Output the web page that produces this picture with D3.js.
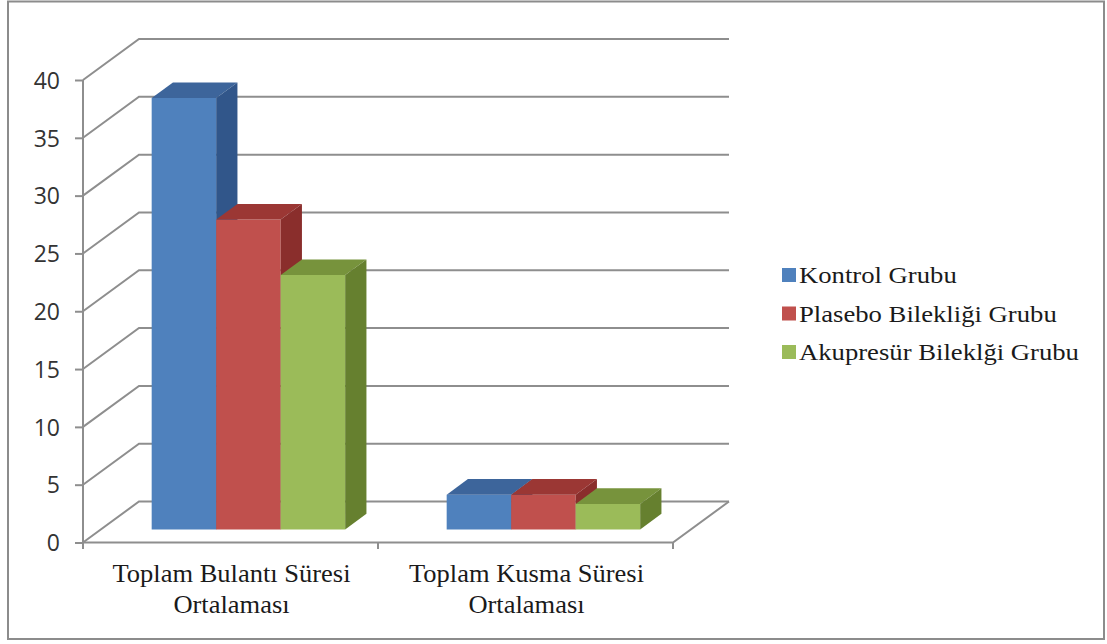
<!DOCTYPE html>
<html>
<head>
<meta charset="utf-8">
<script src="https://cdn.jsdelivr.net/npm/d3@7"></script>
<style>
  html, body { margin: 0; padding: 0; background: #fff; }
  svg { display: block; }
  .serif { font-family: "Liberation Serif", "Times New Roman", serif; }
</style>
</head>
<body>
<svg id="chart" width="1107" height="644"></svg>
<script>
// Category labels (two lines each), series names, values and axis ticks
const categoryLines = [["Toplam Bulantı Süresi", "Ortalaması"], ["Toplam Kusma Süresi", "Ortalaması"]];
const categories = ["Toplam Bulantı Süresi Ortalaması", "Toplam Kusma Süresi Ortalaması"];
const seriesNames = ["Kontrol Grubu", "Plasebo Bilekliği Grubu", "Akupresür Bileklği Grubu"];
const kontrolValues = [37.3, 3.0];
const plaseboValues = [26.8, 3.0];
const akupresurValues = [22.0, 2.2];
const yTicks = [0, 5, 10, 15, 20, 25, 30, 35, 40];

const seriesValues = [kontrolValues, plaseboValues, akupresurValues];
const faceColors = [
  { front: "#4f81bd", top: "#3d659b", side: "#31568a" },
  { front: "#c0504d", top: "#9b3734", side: "#8a2e2c" },
  { front: "#9bbb59", top: "#77933c", side: "#66802f" }
];

const svg = d3.select("#chart");

// Chart frame
svg.append("rect")
  .attr("x", 8).attr("y", 1.5).attr("width", 1096).attr("height", 637.5)
  .attr("fill", "#fff").attr("stroke", "#8c8c8c").attr("stroke-width", 2);

// Front-plane scales and the oblique depth offset of the 3D box
const y = d3.scaleLinear().domain([0, 40]).range([542.5, 80]);
const x0 = d3.scaleBand().domain(categories).range([83, 673]);
const x1 = d3.scaleBand().domain(seriesNames).range([0, x0.bandwidth()])
  .paddingInner(0).paddingOuter(0.787);
const DX = 56, DY = -41;           // full depth of the box
const zFront = 0.32, zBack = 0.70; // depth span occupied by the bars
const proj = (px, v, z) => [px + z * DX, y(v) + z * DY];

const gridColor = "#8e8e8e";
const xLeft = x0.range()[0], xRight = x0.range()[1];

// Side wall and back wall gridlines
const grid = svg.append("g").attr("fill", "none").attr("stroke", gridColor).attr("stroke-width", 2);
yTicks.forEach(t => {
  const a = proj(xLeft, t, 0), b = proj(xLeft, t, 1), c = proj(xRight, t, 1);
  grid.append("path").attr("d", d3.line()([a, b, c]));
});

// Floor outline
const floor = [proj(xLeft, 0, 0), proj(xRight, 0, 0), proj(xRight, 0, 1)];
grid.append("path").attr("d", d3.line()(floor));

// Category ticks below the floor
[xLeft, ...categories.map(c => x0(c) + x0.bandwidth())].forEach(px => {
  grid.append("line").attr("x1", px).attr("x2", px)
    .attr("y1", y(0)).attr("y2", y(0) + 6.5);
});

// Value axis
const yAxis = d3.axisLeft(y).tickValues(yTicks).tickSize(8).tickSizeOuter(0).tickPadding(15);
const ax = svg.append("g").attr("transform", `translate(${xLeft},0)`).call(yAxis);
ax.select(".domain").remove();
ax.selectAll(".tick line").attr("stroke", gridColor).attr("stroke-width", 2);
ax.selectAll(".tick text")
  .attr("fill", "#333").attr("font-family", "'Open Sans', sans-serif")
  .attr("font-size", 23).attr("dy", "0.36em");
svg.append("line").attr("x1", xLeft).attr("x2", xLeft)
  .attr("y1", y(40)).attr("y2", y(0) + 6.5)
  .attr("stroke", gridColor).attr("stroke-width", 2);

// 3D bars: front, top and right side faces, drawn left to right
const bars = svg.append("g");
categories.forEach((cat, ci) => {
  seriesNames.forEach((s, si) => {
    const v = seriesValues[si][ci];
    const xl = x0(cat) + x1(s), xr = xl + x1.bandwidth();
    const col = faceColors[si];
    const fbl = proj(xl, 0, zFront), fbr = proj(xr, 0, zFront);
    const ftl = proj(xl, v, zFront), ftr = proj(xr, v, zFront);
    const btl = proj(xl, v, zBack), btr = proj(xr, v, zBack), bbr = proj(xr, 0, zBack);
    const poly = pts => d3.line()(pts) + "Z";
    bars.append("path").attr("d", poly([fbl, fbr, ftr, ftl])).attr("fill", col.front);
    bars.append("path").attr("d", poly([ftl, ftr, btr, btl])).attr("fill", col.top);
    bars.append("path").attr("d", poly([fbr, bbr, btr, ftr])).attr("fill", col.side);
  });
});

// Category labels
const labels = svg.append("g").attr("text-anchor", "middle");
categories.forEach((cat, ci) => {
  const cx = x0(cat) + x0.bandwidth() / 2 + 1;
  categoryLines[ci].forEach((line, li) => {
    labels.append("text").attr("class", "serif")
      .attr("font-size", 25).attr("fill", "#1a1a1a")
      .attr("transform", `translate(${cx},${582 + li * 31}) scale(1.06,1)`)
      .text(line);
  });
});

// Legend
const legend = svg.append("g");
seriesNames.forEach((s, si) => {
  const ly = 268 + si * 38.5;
  legend.append("rect").attr("x", 782).attr("y", ly).attr("width", 14).attr("height", 14)
    .attr("fill", faceColors[si].front);
  legend.append("text").attr("class", "serif")
    .attr("font-size", 23).attr("fill", "#1a1a1a")
    .attr("transform", `translate(799,${ly + 15}) scale(1.16,1)`)
    .text(s);
});
</script>
</body>
</html>
